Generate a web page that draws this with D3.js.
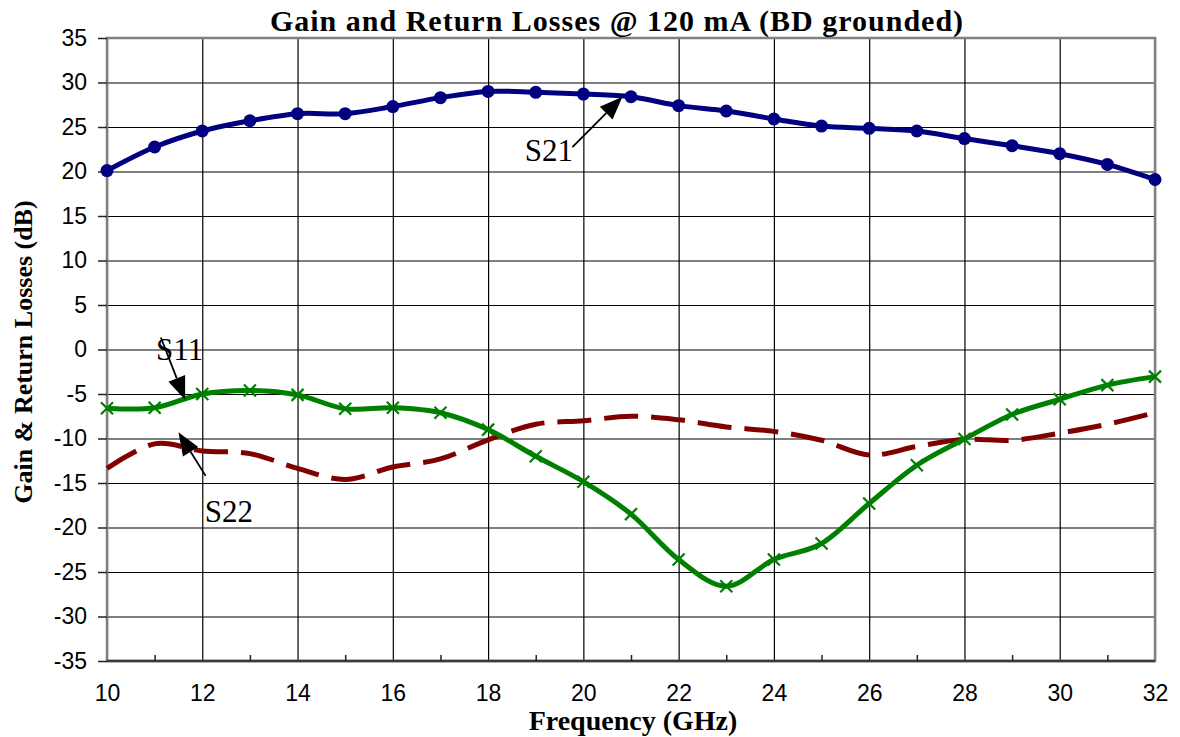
<!DOCTYPE html>
<html>
<head>
<meta charset="utf-8">
<script src="https://cdn.jsdelivr.net/npm/d3@7"></script>
<style>
  html, body { margin: 0; padding: 0; background: #fff; }
  svg { display: block; }
</style>
</head>
<body>
<svg id="chart" width="1180" height="737"></svg>
<script>
// Frequency points (GHz)
const freqs = [10, 11, 12, 13, 14, 15, 16, 17, 18, 19, 20, 21, 22, 23, 24, 25, 26, 27, 28, 29, 30, 31, 32];

// S-parameters in dB
const s21 = [20.1, 22.75, 24.55, 25.7, 26.5, 26.5, 27.3, 28.3, 29.0, 28.9, 28.7, 28.4, 27.4, 26.8, 25.9, 25.1, 24.85, 24.55, 23.7, 22.9, 22.0, 20.8, 19.1];
const s11 = [-6.6, -6.55, -5.0, -4.6, -5.1, -6.65, -6.55, -7.1, -9.0, -12.0, -14.85, -18.5, -23.6, -26.6, -23.6, -21.8, -17.3, -13.0, -10.05, -7.3, -5.6, -4.0, -3.05];
const s22 = [-13.35, -10.6, -11.4, -11.7, -13.35, -14.6, -13.2, -12.3, -10.15, -8.4, -8.0, -7.5, -7.9, -8.7, -9.2, -10.2, -11.85, -10.9, -10.1, -10.2, -9.4, -8.4, -7.1];

// Axis ticks
const yTicks = [-35, -30, -25, -20, -15, -10, -5, 0, 5, 10, 15, 20, 25, 30, 35];
const xMajorTicks = [10, 12, 14, 16, 18, 20, 22, 24, 26, 28, 30, 32];
const xMinorTicks = [11, 13, 15, 17, 19, 21, 23, 25, 27, 29, 31];

// Text
const chartTitle = "Gain and Return Losses @ 120 mA (BD grounded)";
const xTitle = "Frequency (GHz)";
const yTitle = "Gain & Return Losses (dB)";

// Callouts: label, label anchor [GHz, dB], arrow tail [GHz, dB], arrow tip [GHz, dB]
const calloutNames = ["S21", "S11", "S22"];
const calloutLabelAt = [[18.77, 21.2], [11.03, -1.2], [12.05, -19.35]];
const calloutTail = [[19.77, 22.75], [11.13, 1.35], [12.07, -14.2]];
const calloutTip = [[20.82, 28.4], [11.64, -5.65], [11.5, -9.3]];

const svg = d3.select("#chart");
const plotL = 107, plotR = 1155, plotT = 38, plotB = 661;

const x = d3.scaleLinear().domain([10, 32]).range([plotL, plotR]);
const y = d3.scaleLinear().domain([-35, 35]).range([plotB, plotT]);

// Grid
const gridX = svg.append("g")
  .attr("transform", `translate(0,${plotB})`)
  .call(d3.axisBottom(x).tickValues(xMajorTicks).tickSize(-(plotB - plotT)).tickFormat(""));
gridX.select(".domain").remove();
gridX.selectAll("line").attr("stroke", "#000").attr("stroke-width", 1.2);

const gridY = svg.append("g")
  .attr("transform", `translate(${plotL},0)`)
  .call(d3.axisLeft(y).tickValues(yTicks).tickSize(-(plotR - plotL)).tickFormat(""));
gridY.select(".domain").remove();
gridY.selectAll("line").attr("stroke", "#000").attr("stroke-width", 1.2);

// Plot frame
svg.append("rect")
  .attr("x", plotL).attr("y", plotT)
  .attr("width", plotR - plotL).attr("height", plotB - plotT)
  .attr("fill", "none").attr("stroke", "#808080").attr("stroke-width", 2.5);

// Left axis with labels
const yAxis = svg.append("g")
  .attr("transform", `translate(${plotL},0)`)
  .call(d3.axisLeft(y).tickValues(yTicks).tickSize(9).tickPadding(11).tickFormat(d => String(d)));
yAxis.select(".domain").remove();
yAxis.selectAll("line").attr("stroke", "#222").attr("stroke-width", 1.5);
yAxis.selectAll("text")
  .attr("font-family", "'Liberation Sans', Arial, sans-serif")
  .attr("font-size", 23).attr("fill", "#000");

// Bottom axis line, minor ticks pointing inward, labels at even GHz
svg.append("line")
  .attr("x1", plotL).attr("x2", plotR).attr("y1", plotB).attr("y2", plotB)
  .attr("stroke", "#3a3a3a").attr("stroke-width", 2.5);

const xMinor = svg.append("g")
  .attr("transform", `translate(0,${plotB})`)
  .call(d3.axisBottom(x).tickValues(xMinorTicks).tickSize(-6).tickFormat(""));
xMinor.select(".domain").remove();
xMinor.selectAll("line").attr("stroke", "#222").attr("stroke-width", 1.5);

const xAxis = svg.append("g")
  .attr("transform", `translate(0,${plotB})`)
  .call(d3.axisBottom(x).tickValues(xMajorTicks).tickSize(0).tickPadding(24).tickFormat(d => String(d)));
xAxis.select(".domain").remove();
xAxis.selectAll("text")
  .attr("font-family", "'Liberation Sans', Arial, sans-serif")
  .attr("font-size", 23).attr("fill", "#000");

// Series
const line = d3.line()
  .x((d, i) => x(freqs[i]))
  .y(d => y(d))
  .curve(d3.curveCardinal.tension(0));

svg.append("path").datum(s22)
  .attr("d", line).attr("fill", "none")
  .attr("stroke", "#800000").attr("stroke-width", 5)
  .attr("stroke-dasharray", "34,13");

svg.append("path").datum(s11)
  .attr("d", line).attr("fill", "none")
  .attr("stroke", "#008000").attr("stroke-width", 5);

svg.append("g").selectAll("path").data(s11).join("path")
  .attr("transform", (d, i) => `translate(${x(freqs[i])},${y(d)})`)
  .attr("d", "M-6,-6L6,6M-6,6L6,-6")
  .attr("stroke", "#008000").attr("stroke-width", 2.2).attr("fill", "none");

svg.append("path").datum(s21)
  .attr("d", line).attr("fill", "none")
  .attr("stroke", "#000080").attr("stroke-width", 5);

svg.append("g").selectAll("circle").data(s21).join("circle")
  .attr("cx", (d, i) => x(freqs[i]))
  .attr("cy", d => y(d))
  .attr("r", 6.5)
  .attr("fill", "#000080");

// Callout arrows and labels
const callouts = svg.append("g");
calloutNames.forEach((name, i) => {
  const tx = x(calloutTail[i][0]), ty = y(calloutTail[i][1]);
  const hx = x(calloutTip[i][0]), hy = y(calloutTip[i][1]);
  const len = Math.hypot(hx - tx, hy - ty);
  const ux = (hx - tx) / len, uy = (hy - ty) / len;
  const headLen = 23, headHalf = 9;
  const bx = hx - ux * headLen, by = hy - uy * headLen;
  callouts.append("line")
    .attr("x1", tx).attr("y1", ty).attr("x2", bx).attr("y2", by)
    .attr("stroke", "#000").attr("stroke-width", 1.8);
  callouts.append("path")
    .attr("d", `M${hx},${hy}L${bx - uy * headHalf},${by + ux * headHalf}L${bx + uy * headHalf},${by - ux * headHalf}Z`)
    .attr("fill", "#000");
  callouts.append("text")
    .attr("x", x(calloutLabelAt[i][0])).attr("y", y(calloutLabelAt[i][1]))
    .attr("font-family", "'Liberation Serif', 'Times New Roman', serif")
    .attr("font-size", 31).attr("fill", "#000")
    .text(name);
});

// Titles
const serifBold = "'Liberation Serif', 'Times New Roman', serif";
svg.append("text")
  .attr("x", 617).attr("y", 31)
  .attr("text-anchor", "middle")
  .attr("font-family", serifBold).attr("font-weight", "bold")
  .attr("font-size", 30).attr("letter-spacing", 1)
  .text(chartTitle);

svg.append("text")
  .attr("x", 633).attr("y", 730)
  .attr("text-anchor", "middle")
  .attr("font-family", serifBold).attr("font-weight", "bold")
  .attr("font-size", 28)
  .text(xTitle);

svg.append("text")
  .attr("transform", `translate(32,352) rotate(-90)`)
  .attr("text-anchor", "middle")
  .attr("font-family", serifBold).attr("font-weight", "bold")
  .attr("font-size", 26)
  .text(yTitle);
</script>
</body>
</html>
